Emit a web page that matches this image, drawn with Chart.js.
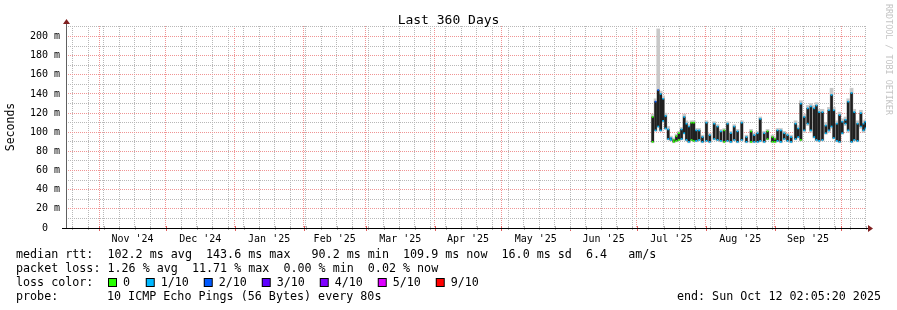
<!DOCTYPE html>
<html lang="en">
<head>
<meta charset="UTF-8">
<title>Last 360 Days</title>
<script src="https://cdn.jsdelivr.net/npm/chart.js"></script>
<style>
  body { margin: 0; background: #fff; }
  .wrap { position: relative; width: 897px; height: 310px; }
</style>
</head>
<body>
<div class="wrap"><canvas id="rtt" width="897" height="310"></canvas></div>
<script>
// x values are days since the start of the graph (end time minus 360 days)
const days = [264.0, 265.3, 266.5, 267.6, 268.7, 269.8, 271.0, 272.2, 273.5, 274.7,
  275.8, 277.0, 278.2, 279.2, 280.3, 281.5, 282.5, 283.6, 284.9, 286.4,
  288.2, 289.7, 291.7, 293.2, 294.7, 296.2, 297.7, 299.2, 300.7, 302.2,
  304.1, 306.2, 308.3, 309.7, 311.2, 312.4, 314.2, 315.7, 317.9, 319.0,
  320.2, 321.7, 323.2, 324.7, 326.3, 328.3, 329.5, 330.7, 332.2, 333.8,
  335.2, 336.7, 337.7, 338.9, 340.4, 341.9, 343.3, 344.5, 345.5, 346.9,
  348.1, 349.3, 350.8, 352.0, 353.5, 354.7, 356.2, 357.7, 358.9, 359.8];

// median rtt range in each slot (ms)
const medHigh = [116, 132, 144, 140, 135, 117, 103, 94, 92, 96,
  99, 103, 116, 109, 106, 110, 110, 102, 102, 95,
  110, 97, 109, 106, 101, 102, 109, 99, 106, 101,
  110, 95, 101, 97, 99, 114, 99, 101, 95, 93,
  102, 102, 99, 97, 95, 109, 104, 130, 116, 125,
  127, 125, 128, 121, 121, 107, 123, 139, 123, 109,
  118, 111, 113, 132, 141, 121, 109, 120, 109, 111];
const medLow = [90, 102, 106, 102, 112, 104, 93, 92, 90, 91,
  92, 93, 99, 92, 90, 92, 91, 91, 92, 90,
  91, 90, 93, 92, 91, 90, 91, 90, 92, 90,
  92, 90, 90, 90, 90, 91, 90, 93, 90, 90,
  91, 90, 93, 91, 90, 93, 95, 92, 102, 109,
  102, 95, 92, 91, 92, 99, 102, 106, 94, 91,
  90, 99, 109, 102, 90, 92, 91, 106, 102, 104];

// smoke (spread of the single pings)
const smokeHigh = [119, 135, 208, 143, 138, 120, 106, 96, 94, 98,
  101, 105, 119, 112, 108, 112, 112, 104, 104, 97,
  112, 99, 111, 108, 103, 104, 111, 101, 108, 103,
  112, 97, 103, 99, 101, 116, 101, 103, 97, 95,
  104, 104, 101, 99, 97, 112, 107, 133, 119, 128,
  130, 128, 131, 124, 124, 110, 126, 146, 126, 112,
  121, 114, 116, 135, 146, 124, 112, 123, 112, 113];
const smokeLow = [89, 101, 105, 101, 110, 103, 92, 91, 89, 90,
  91, 92, 98, 91, 89, 91, 90, 90, 91, 89,
  90, 89, 92, 91, 90, 89, 90, 89, 91, 89,
  91, 89, 89, 89, 89, 90, 89, 92, 89, 89,
  90, 89, 92, 90, 89, 92, 94, 91, 100, 107,
  100, 94, 91, 90, 91, 98, 100, 104, 93, 90,
  89, 98, 107, 100, 89, 91, 90, 104, 100, 102];

// loss bucket (index into lossColors) at the top and bottom of each slot
const lossTop = [0, 2, 2, 1, 1, 1, 1, 1, 0, 0, 0, 1, 1, 1, 1, 0, 0, 1, 1, 1,
  1, 1, 1, 1, 1, 0, 1, 1, 1, 1, 1, 1, 0, 1, 1, 1, 1, 0, 0, 0,
  1, 1, 1, 1, 1, 1, 1, 1, 1, 1, 1, 1, 1, 1, 1, 1, 1, 1, 1, 1,
  1, 1, 1, 1, 1, 1, 1, 1, 1, 1];
const lossBottom = [0, 1, 1, 1, 1, 1, 1, 1, 0, 0, 0, 1, 1, 1, 1, 0, 0, 1, 1, 1,
  1, 1, 1, 1, 1, 0, 1, 1, 1, 1, 1, 1, 0, 1, 1, 1, 1, 0, 0, 0,
  1, 1, 1, 1, 1, 1, 1, 0, 1, 1, 1, 1, 1, 1, 1, 1, 1, 1, 1, 1,
  1, 1, 1, 1, 1, 1, 1, 1, 1, 1];

const lossLabels = ['0', '1/10', '2/10', '3/10', '4/10', '5/10', '9/10'];
const lossColors = ['#26ff00', '#00b8ff', '#0059ff', '#5e00ff', '#7e00ff', '#dd00ff', '#ff0000'];

const monthLabels = ["Nov '24", "Dec '24", "Jan '25", "Feb '25", "Mar '25", "Apr '25",
  "May '25", "Jun '25", "Jul '25", "Aug '25", "Sep '25"];

const statLines = [
  'median rtt:  102.2 ms avg  143.6 ms max   90.2 ms min  109.9 ms now  16.0 ms sd  6.4   am/s',
  'packet loss: 1.26 % avg  11.71 % max  0.00 % min  0.02 % now'
];
const probeText = '10 ICMP Echo Pings (56 Bytes) every 80s';
const endText = 'end: Sun Oct 12 02:05:20 2025';

const mono = "'DejaVu Sans Mono', monospace";
const MAJOR = '#f09494';
const MINOR = '#b8b8b8';

// time grid: graph starts Oct 17 2024 02:05:20
const t0 = Date.UTC(2024, 9, 17, 2, 5, 20);
const toDay = t => (t - t0) / 86400000;
const monthStarts = [];
for (let i = 0; i < 12; i++) monthStarts.push(toDay(Date.UTC(2024, 10 + i, 1)));
const labelPos = monthLabels.map((_, i) => (monthStarts[i] + monthStarts[i + 1]) / 2);
const weekLines = [];
for (let d = toDay(Date.UTC(2024, 9, 20)); d < 360; d += 7) weekLines.push(d);

const xTicks = [];
weekLines.forEach(v => xTicks.push({ value: v, kind: 'minor' }));
monthStarts.forEach(v => xTicks.push({ value: v, kind: 'major' }));
labelPos.forEach((v, i) => xTicks.push({ value: v, kind: 'label', text: monthLabels[i] }));
xTicks.sort((a, b) => a.value - b.value);

const rrdFrame = {
  id: 'rrdFrame',
  beforeDraw(chart) {
    const c = chart.ctx;
    c.save();
    c.fillStyle = '#fff';
    c.fillRect(0, 0, chart.width, chart.height);
    c.restore();
  },
  afterDraw(chart) {
    const c = chart.ctx;
    const { left, right, top, bottom } = chart.chartArea;
    const xs = chart.scales.x;
    c.save();

    // small ticks on the x axis
    xTicks.forEach(t => {
      if (t.kind === 'label') return;
      const px = Math.round(xs.getPixelForValue(t.value));
      c.fillStyle = t.kind === 'major' ? '#e06060' : '#b0b0b0';
      c.fillRect(px, bottom - 2, 1, t.kind === 'major' ? 5 : 4);
    });

    // axes and arrows
    c.fillStyle = '#000';
    c.fillRect(left - 4, bottom, right - left + 6, 1);
    c.fillStyle = '#606060';
    c.fillRect(left, top - 3, 1, bottom - top + 3);
    c.fillStyle = '#802020';
    c.beginPath();
    c.moveTo(right + 2, bottom - 3); c.lineTo(right + 7, bottom + 0.5); c.lineTo(right + 2, bottom + 4);
    c.fill();
    c.beginPath();
    c.moveTo(left - 3, top - 2); c.lineTo(left + 0.5, top - 7); c.lineTo(left + 4, top - 2);
    c.fill();

    // title and axis label
    c.fillStyle = '#000';
    c.textBaseline = 'middle';
    c.textAlign = 'center';
    c.font = '13px ' + mono;
    c.fillText('Last 360 Days', 448.5, 20.5);
    c.save();
    c.translate(11, 127);
    c.rotate(-Math.PI / 2);
    c.font = '11.5px ' + mono;
    c.fillText('Seconds', 0, 0);
    c.restore();

    c.save();
    c.translate(888, 4);
    c.rotate(Math.PI / 2);
    c.textAlign = 'left';
    c.fillStyle = '#c4c4c4';
    c.font = '8.4px ' + mono;
    c.fillText('RRDTOOL / TOBI OETIKER', 0, 0);
    c.restore();

    // legend block
    c.textAlign = 'left';
    c.font = '11.7px ' + mono;
    c.fillText(statLines[0], 16, 254.5);
    c.fillText(statLines[1], 16, 268.5);
    c.fillText('loss color:', 16, 282.5);
    let bx = 108;
    lossLabels.forEach((lab, i) => {
      c.fillStyle = '#000';
      c.fillRect(bx, 278, 9, 9);
      c.fillStyle = lossColors[i];
      c.fillRect(bx + 1, 279, 7, 7);
      c.fillStyle = '#000';
      c.fillText(lab, bx + 15, 282.5);
      bx += 17.5 + (lab.length + 2) * 6.75;
    });
    c.fillText('probe:', 16, 296.5);
    c.fillText(probeText, 107, 296.5);
    c.textAlign = 'right';
    c.fillText(endText, 881, 296.5);
    c.restore();
  }
};

const pts = (vals) => days.map((d, i) => ({ x: d, y: vals[i] }));
const ranges = (lo, hi) => days.map((d, i) => ({ x: d, y: [lo[i], hi[i]] }));

new Chart(document.getElementById('rtt'), {
  type: 'bar',
  data: {
    datasets: [
      {
        type: 'line', label: 'top', data: pts(medHigh), showLine: false,
        pointStyle: 'rect', pointRadius: 1.2, pointBorderWidth: 0,
        pointBackgroundColor: lossTop.map(k => lossColors[k]), order: 0
      },
      {
        type: 'line', label: 'bottom', data: pts(medLow), showLine: false,
        pointStyle: 'rect', pointRadius: 1.2, pointBorderWidth: 0,
        pointBackgroundColor: lossBottom.map(k => lossColors[k]), order: 1
      },
      {
        label: 'median', data: ranges(medLow, medHigh), backgroundColor: '#202020',
        borderWidth: 0, barThickness: 2, grouped: false, order: 2
      },
      {
        label: 'smoke', data: ranges(smokeLow, smokeHigh), backgroundColor: '#c8c8c8',
        borderWidth: 0, barThickness: 3, grouped: false, order: 3
      }
    ]
  },
  options: {
    responsive: false,
    animation: false,
    devicePixelRatio: 1,
    events: [],
    layout: { padding: { top: 26, right: 31, bottom: 0, left: 0 } },
    plugins: { legend: { display: false }, tooltip: { enabled: false } },
    scales: {
      x: {
        type: 'linear', min: 0, max: 360, offset: false,
        afterBuildTicks: s => { s.ticks = xTicks.map(t => ({ value: t.value })); },
        afterFit: s => { s.height = 82; },
        grid: {
          offset: false, drawTicks: false, lineWidth: 1,
          color: ctx => {
            const t = xTicks[ctx.index];
            if (!t || t.kind === 'label') return 'rgba(0,0,0,0)';
            return t.kind === 'major' ? MAJOR : MINOR;
          }
        },
        border: { display: false, dash: [1, 1] },
        ticks: {
          autoSkip: false, maxRotation: 0, padding: 5, color: '#000',
          font: { family: mono, size: 10 },
          callback: (v, i) => (xTicks[i] && xTicks[i].kind === 'label') ? xTicks[i].text : ''
        }
      },
      y: {
        min: 0, max: 211,
        afterBuildTicks: s => {
          const t = [];
          for (let v = 0; v <= 210; v += 10) t.push({ value: v });
          s.ticks = t;
        },
        afterFit: s => { s.width = 66; },
        grid: {
          drawTicks: false, lineWidth: 1,
          color: ctx => (ctx.tick && ctx.tick.value % 20 === 0) ? MAJOR : MINOR
        },
        border: { display: false, dash: [1, 1] },
        ticks: {
          autoSkip: false, padding: 6, color: '#000', font: { family: mono, size: 10 },
          callback: v => v === 0 ? '0  ' : (v % 20 === 0 ? v + ' m' : '')
        }
      }
    }
  },
  plugins: [rrdFrame]
});
</script>
</body>
</html>
